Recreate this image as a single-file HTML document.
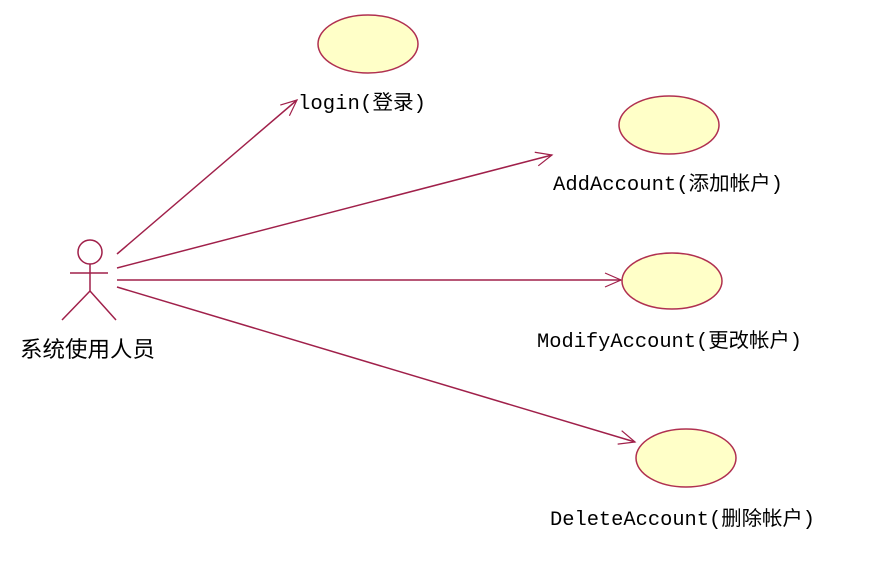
<!DOCTYPE html>
<html><head><meta charset="utf-8"><style>body{margin:0;background:#fff}</style></head>
<body>
<svg width="869" height="559" xmlns="http://www.w3.org/2000/svg">
<defs>
<marker id="a" markerWidth="20" markerHeight="16" refX="18" refY="8" orient="auto" markerUnits="userSpaceOnUse">
<path d="M2,1 L18,8 L2,15" fill="none" stroke="#a0204a" stroke-width="1.2"/>
</marker>
</defs>
<g fill="#ffffc8" stroke="#b03050" stroke-width="1.5">
<ellipse cx="368" cy="44" rx="50" ry="29"/>
<ellipse cx="669" cy="125" rx="50" ry="29"/>
<ellipse cx="672" cy="281" rx="50" ry="28"/>
<ellipse cx="686" cy="458" rx="50" ry="29"/>
</g>
<g stroke="#a0204a" stroke-width="1.5" fill="none">
<circle cx="90" cy="252" r="12"/>
<line x1="70" y1="273" x2="108" y2="273"/>
<line x1="90" y1="264" x2="90" y2="291"/>
<line x1="90" y1="291" x2="62" y2="320"/>
<line x1="90" y1="291" x2="116" y2="320"/>
<line x1="117" y1="254" x2="297" y2="100" marker-end="url(#a)"/>
<line x1="117" y1="268" x2="552" y2="155" marker-end="url(#a)"/>
<line x1="117" y1="280" x2="621" y2="280" marker-end="url(#a)"/>
<line x1="117" y1="287" x2="635" y2="442" marker-end="url(#a)"/>
</g>
<g font-family="'Liberation Mono','Noto Sans CJK SC',monospace" font-size="20" fill="#000">
<text x="298" y="109" textLength="128" lengthAdjust="spacingAndGlyphs">login(登录)</text>
<text x="553" y="190" textLength="230" lengthAdjust="spacingAndGlyphs">AddAccount(添加帐户)</text>
<text x="537" y="347" textLength="265" lengthAdjust="spacingAndGlyphs">ModifyAccount(更改帐户)</text>
<text x="550" y="525" textLength="265" lengthAdjust="spacingAndGlyphs">DeleteAccount(删除帐户)</text>
</g>
<text x="20" y="357" font-family="'Liberation Sans','Noto Sans CJK SC',sans-serif" font-size="22" textLength="135" lengthAdjust="spacingAndGlyphs">系统使用人员</text>
</svg>
</body></html>
